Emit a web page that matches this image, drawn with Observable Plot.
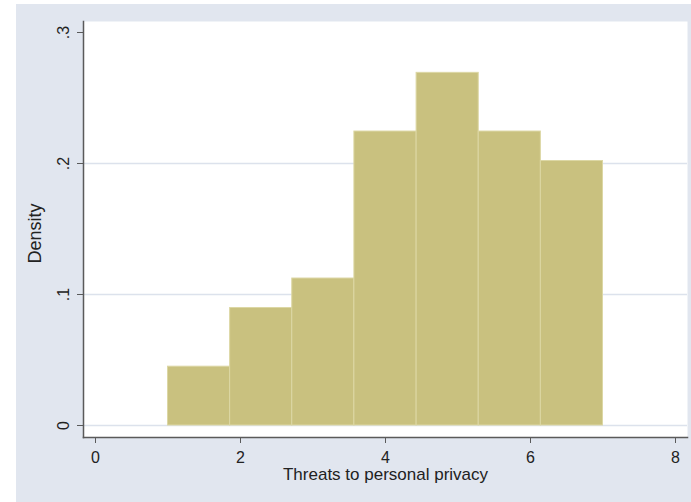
<!DOCTYPE html>
<html>
<head>
<meta charset="utf-8">
<script src="https://cdn.jsdelivr.net/npm/d3@7"></script>
<script src="https://cdn.jsdelivr.net/npm/@observablehq/plot@0.6"></script>
<style>
  html, body { margin: 0; padding: 0; background: #ffffff; }
  #chart { position: absolute; left: 16px; top: 4px; }
  #chart svg { background: #E1E6EF; font-family: "Liberation Sans", Arial, sans-serif; display: block; }
</style>
</head>
<body>
<div id="chart"></div>
<script>
// Histogram bins (threats to personal privacy) and densities
const binStarts = [1, 1.857, 2.714, 3.571, 4.429, 5.286, 6.143];
const binEnds   = [1.857, 2.714, 3.571, 4.429, 5.286, 6.143, 7];
const densities = [0.0449, 0.0897, 0.1122, 0.2244, 0.2692, 0.2244, 0.2019];

const xTicks = [0, 2, 4, 6, 8];
const yTicks = [0, 0.1, 0.2, 0.3];
const yTickLabels = ["0", ".1", ".2", ".3"];
const yGrid = [0, 0.1, 0.2];
const xTitle = "Threats to personal privacy";
const yTitle = "Density";

const bins = binStarts.map((s, i) => ({x1: s, x2: binEnds[i], y: densities[i]}));
const yLab = yTicks.map((v, i) => ({v, t: yTickLabels[i]}));

const chart = Plot.plot({
  width: 675,
  height: 498,
  marginLeft: 67,
  marginRight: 4,
  marginTop: 17,
  marginBottom: 65,
  insetLeft: 12,
  insetRight: 12,
  insetTop: 11,
  insetBottom: 12,
  style: {background: "#E1E6EF", fontFamily: "Liberation Sans, Arial, sans-serif"},
  x: {domain: [0, 8]},
  y: {domain: [0, 0.3]},
  marks: [
    Plot.frame({fill: "white", stroke: null}),
    Plot.ruleY(yGrid, {stroke: "#DCE2EC", strokeWidth: 1.5}),
    Plot.rectY(bins, {x1: "x1", x2: "x2", y: "y", fill: "#C9C17F", stroke: "#DCD7A4", strokeWidth: 1}),
    Plot.frame({anchor: "bottom", stroke: "#5A5A5A", strokeWidth: 1.5}),
    Plot.frame({anchor: "left", stroke: "#5A5A5A", strokeWidth: 1.5}),
    Plot.axisX({ticks: xTicks, tickSize: 6, tickPadding: 8, fontSize: 16, stroke: "#5A5A5A", color: "#222", tickFormat: d => String(d), label: null}),
    Plot.axisY({ticks: yTicks, tickSize: 6, tickFormat: () => "", stroke: "#5A5A5A", label: null}),
    Plot.text(yLab, {y: "v", text: "t", frameAnchor: "left", textAnchor: "middle", rotate: -90, dx: -20, fontSize: 16, fill: "#222"}),
    Plot.text([yTitle], {text: d => d, frameAnchor: "left", textAnchor: "middle", rotate: -90, dx: -48, dy: 4, fontSize: 18, fill: "#222"}),
    Plot.text([xTitle], {text: d => d, frameAnchor: "bottom", lineAnchor: "top", dy: 30, fontSize: 17, fill: "#222"})
  ]
});
document.getElementById("chart").appendChild(chart);
</script>
</body>
</html>
